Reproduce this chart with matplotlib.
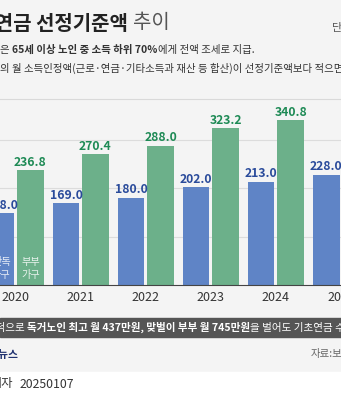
import matplotlib.pyplot as plt
from matplotlib.patches import Rectangle
from matplotlib.lines import Line2D

plt.rcParams['font.family'] = ['Noto Sans CJK KR', 'DejaVu Sans']

# data (만원)
years = ['2020', '2021', '2022', '2023', '2024', '2025']
single = [148.0, 169.0, 180.0, 202.0, 213.0, 228.0]
couple = [236.8, 270.4, 288.0, 323.2, 340.8, 364.8]

W, H = 341, 400
bg = '#f4f4f4'
blue, green = '#5f84c6', '#6cb08a'
blue_txt, green_txt = '#2a4b9b', '#1e8a55'

fig = plt.figure(figsize=(W / 100, H / 100), dpi=100, facecolor=bg)
renderer = fig.canvas.get_renderer()


def px(x, y):
    return x / W, 1 - y / H


def runs(x, y, parts, size, color):
    # draw text pieces one after another on one line
    for s, weight, gap in parts:
        t = fig.text(*px(x, y), s, fontsize=size, fontweight=weight,
                     color=color, ha='left', va='center')
        x += t.get_window_extent(renderer=renderer).width + gap


# header
fig.text(*px(128, 23), '기초연금 선정기준액', fontsize=14.4, fontweight='bold',
         color='#222222', ha='right', va='center')
fig.text(*px(133, 23), '추이', fontsize=14.4, color='#555555',
         ha='left', va='center')
fig.text(*px(332, 28), '단위:만원', fontsize=8, color='#555555',
         ha='left', va='center')
runs(0, 50, [('은', 'normal', 2.7),
             ('65세 이상 노인 중 소득 하위 70%', 'bold', 0),
             ('에게 전액 조세로 지급.', 'normal', 0)], 7.5, '#333333')
fig.text(*px(0, 68), '의 월 소득인정액(근로·연금·기타소득과 재산 등 합산)이 선정기준액보다 적으면',
         fontsize=7.5, color='#333333', ha='left', va='center')
fig.add_artist(Line2D([0, 1], [1 - 99 / H] * 2, color='#d9d9d9', lw=0.8))

# chart
ax = fig.add_axes([0, 115 / H, 1, 185 / H])
ax.set_facecolor(bg)
idx = range(len(years))
bw, off = 0.407, 0.226
b1 = ax.bar([i - off for i in idx], single, bw, color=blue, zorder=2)
b2 = ax.bar([i + off for i in idx], couple, bw, color=green, zorder=2)
ax.bar_label(b1, fmt='%.1f', padding=1, color=blue_txt, fontsize=8.8, fontweight='bold')
ax.bar_label(b2, fmt='%.1f', padding=1, color=green_txt, fontsize=8.8, fontweight='bold')
ax.text(0 - off, 34, '단독\n가구', ha='center', va='center', fontsize=7.3,
        color='white', alpha=0.85, linespacing=1.45, zorder=3)
ax.text(0 + off, 34, '부부\n가구', ha='center', va='center', fontsize=7.3,
        color='white', alpha=0.85, linespacing=1.45, zorder=3)

ax.set_xlim(-16 / 66.4, 325 / 66.4)
ax.set_ylim(0, 382)
ax.set_yticks([100, 200, 300])
ax.yaxis.grid(True, color='#dcdcdc', lw=0.8)
ax.set_axisbelow(True)
ax.tick_params(axis='y', left=False, labelleft=False)
ax.set_xticks(list(idx), years)
ax.tick_params(axis='x', length=0, pad=4.5, labelsize=9, labelcolor='#333333')
for s in ['top', 'right', 'left']:
    ax.spines[s].set_visible(False)
ax.spines['bottom'].set_color('#444444')
ax.spines['bottom'].set_linewidth(0.8)

# footer
fig.add_artist(Rectangle(px(0, 337), 1, 19 / H, color='#555555',
                         transform=fig.transFigure))
fig.text(*px(25, 327.5), '이론적으로', fontsize=7.6, color='white',
         ha='right', va='center')
runs(27, 327.5, [('독거노인 최고 월 437만원, 맞벌이 부부 월 745만원', 'bold', 0),
                 ('을 벌어도 기초연금 수급 가능', 'normal', 0)], 7.6, 'white')
fig.text(*px(18, 355), '연합뉴스', fontsize=7.8, fontweight='bold',
         color='#1f3170', ha='right', va='center')
fig.text(*px(311, 354), '자료:보건복지부', fontsize=7.5, color='#666666',
         ha='left', va='center')
fig.add_artist(Rectangle((0, 0), 1, 28 / H, color='white',
                         transform=fig.transFigure))
fig.text(*px(13, 384), '기자', fontsize=8.8, color='#333333', ha='right', va='center')
fig.text(*px(20, 384), '20250107', fontsize=8.8, color='#333333', ha='left', va='center')

fig.savefig('out.png', dpi=100, facecolor=bg)
